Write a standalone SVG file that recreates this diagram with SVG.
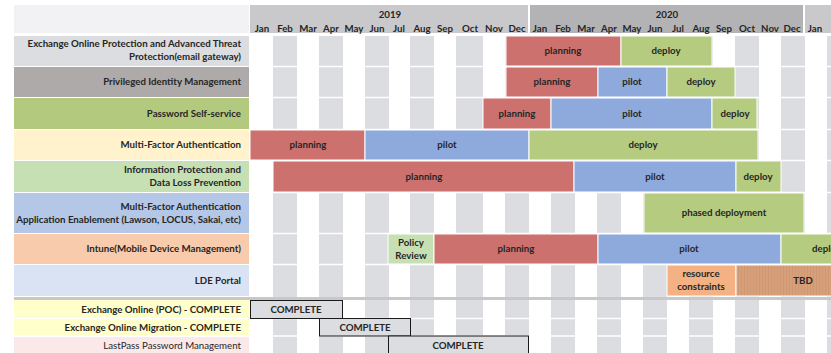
<svg xmlns="http://www.w3.org/2000/svg" width="831" height="353" viewBox="0 0 831 353">
<style>
text{font-family:Lato,"Liberation Sans",sans-serif;font-weight:700;fill:#262626;font-size:9.7px}
.lbl{text-anchor:end}
.c{text-anchor:middle}
.col{fill:#dcdde0}
.bar{stroke:#fff;stroke-width:1}
.plan{fill:#cd716f}
.pilot{fill:#8eaadc}
.deploy{fill:#b4cb80}
.pr{fill:#c6e0b4}
.rc{fill:#f4b183}
.done{fill:#dcdde0;stroke:#1a1a1a;stroke-width:1}
</style>
<defs>
<pattern id="stripe" width="3" height="10" patternUnits="userSpaceOnUse">
<rect width="3" height="10" fill="#d6a07a"/>
<rect width="1" height="10" fill="#cf9873"/>
</pattern>
</defs>
<rect width="831" height="353" fill="#fff"/>
<g id="header">
<rect x="14" y="5" width="235" height="28" fill="#f2f2f4"/>
<rect x="250" y="5" width="278" height="28" fill="#c9c9cb"/>
<rect x="530" y="5" width="273" height="28" fill="#b3b3b5"/>
<rect x="805" y="5" width="26" height="28" fill="#c9c9cb"/>
<text class="c" x="390" y="18">2019</text>
<text class="c" x="667" y="18">2020</text>
<text class="c" x="262" y="32">Jan</text><text class="c" x="285" y="32">Feb</text><text class="c" x="308" y="32">Mar</text><text class="c" x="331" y="32">Apr</text><text class="c" x="354" y="32">May</text><text class="c" x="377" y="32">Jun</text><text class="c" x="399" y="32">Jul</text><text class="c" x="422" y="32">Aug</text><text class="c" x="445" y="32">Sep</text><text class="c" x="470" y="32">Oct</text><text class="c" x="494" y="32">Nov</text><text class="c" x="517" y="32">Dec</text>
<text class="c" x="540" y="32">Jan</text><text class="c" x="563" y="32">Feb</text><text class="c" x="586" y="32">Mar</text><text class="c" x="609" y="32">Apr</text><text class="c" x="632" y="32">May</text><text class="c" x="655" y="32">Jun</text><text class="c" x="678" y="32">Jul</text><text class="c" x="701" y="32">Aug</text><text class="c" x="724" y="32">Sep</text><text class="c" x="747" y="32">Oct</text><text class="c" x="770" y="32">Nov</text><text class="c" x="792" y="32">Dec</text>
<text class="c" x="815" y="32">Jan</text>
</g>
<g id="grid">
<rect class="col" x="273" y="36" width="24" height="317"/>
<rect class="col" x="319" y="36" width="24" height="317"/>
<rect class="col" x="365" y="36" width="24" height="317"/>
<rect class="col" x="410" y="36" width="24" height="317"/>
<rect class="col" x="456" y="36" width="27" height="317"/>
<rect class="col" x="505" y="36" width="24" height="317"/>
<rect class="col" x="551" y="36" width="24" height="317"/>
<rect class="col" x="597" y="36" width="24" height="317"/>
<rect class="col" x="643" y="36" width="24" height="317"/>
<rect class="col" x="689" y="36" width="24" height="317"/>
<rect class="col" x="735" y="36" width="24" height="317"/>
<rect class="col" x="781" y="36" width="24" height="317"/>
<rect class="col" x="827" y="36" width="4" height="317"/>
<g stroke="#fff" stroke-width="1.5">
<line x1="250" y1="66.5" x2="831" y2="66.5"/><line x1="250" y1="97.5" x2="831" y2="97.5"/><line x1="250" y1="129.5" x2="831" y2="129.5"/><line x1="250" y1="160.5" x2="831" y2="160.5"/><line x1="250" y1="192.5" x2="831" y2="192.5"/><line x1="250" y1="233.5" x2="831" y2="233.5"/><line x1="250" y1="264.5" x2="831" y2="264.5"/><line x1="250" y1="318.5" x2="831" y2="318.5"/><line x1="250" y1="336" x2="831" y2="336"/>
</g>
<rect x="14" y="297" width="817" height="3" fill="#c8c8c8"/>
</g>
<g id="labels">
<g id="r1"><rect x="14" y="36" width="235" height="30" fill="#dcdde0"/><text class="lbl" x="241" y="47">Exchange Online Protection and Advanced Threat</text><text class="lbl" x="241" y="60">Protection(email gateway)</text></g>
<g id="r2"><rect x="14" y="67" width="235" height="30" fill="#aeaaaa"/><text class="lbl" x="241" y="85">Privileged Identity Management</text></g>
<g id="r3"><rect x="14" y="98" width="235" height="31" fill="#b3ca7e"/><text class="lbl" x="241" y="117">Password Self-service</text></g>
<g id="r4"><rect x="14" y="130" width="235" height="30" fill="#fff2cc"/><text class="lbl" x="241" y="148">Multi-Factor Authentication</text></g>
<g id="r5"><rect x="14" y="161" width="235" height="31" fill="#c6e0b4"/><text class="lbl" x="241" y="173">Information Protection and</text><text class="lbl" x="241" y="186">Data Loss Prevention</text></g>
<g id="r6"><rect x="14" y="193" width="235" height="40" fill="#b4c7e7"/><text class="lbl" x="241" y="210">Multi-Factor Authentication</text><text class="lbl" x="241" y="223">Application Enablement (Lawson, LOCUS, Sakai, etc)</text></g>
<g id="r7"><rect x="14" y="234" width="235" height="30" fill="#f8cbad"/><text class="lbl" x="241" y="252">Intune(Mobile Device Management)</text></g>
<g id="r8"><rect x="14" y="265" width="235" height="31" fill="#dae3f3"/><text class="lbl" x="241" y="284">LDE Portal</text></g>
<g id="r9"><rect x="14" y="300" width="235" height="18" fill="#ffffcc"/><text class="lbl" x="241" y="313">Exchange Online (POC) - COMPLETE</text></g>
<g id="r10"><rect x="14" y="319" width="235" height="16" fill="#ffffcc"/><text class="lbl" x="241" y="331">Exchange Online Migration - COMPLETE</text></g>
<g id="r11"><rect x="14" y="337" width="235" height="16" fill="#fbe9e9"/><text class="lbl" x="241" y="349" style="font-weight:400">LastPass Password Management</text></g>
</g>
<g id="bars">
<g id="b1"><rect class="bar plan" x="506" y="36" width="115" height="30"/><text class="c" x="563" y="54">planning</text>
<rect class="bar deploy" x="621" y="36" width="91" height="30"/><text class="c" x="666" y="54">deploy</text></g>
<g id="b2"><rect class="bar plan" x="506" y="67" width="92" height="30"/><text class="c" x="552" y="85">planning</text>
<rect class="bar pilot" x="598" y="67" width="69" height="30"/><text class="c" x="632" y="85">pilot</text>
<rect class="bar deploy" x="667" y="67" width="68" height="30"/><text class="c" x="701" y="85">deploy</text></g>
<g id="b3"><rect class="bar plan" x="483" y="98" width="68" height="31"/><text class="c" x="517" y="117">planning</text>
<rect class="bar pilot" x="551" y="98" width="161" height="31"/><text class="c" x="632" y="117">pilot</text>
<rect class="bar deploy" x="712" y="98" width="45" height="31"/><text class="c" x="735" y="117">deploy</text></g>
<g id="b4"><rect class="bar plan" x="250" y="130" width="115" height="30"/><text class="c" x="308" y="148">planning</text>
<rect class="bar pilot" x="365" y="130" width="164" height="30"/><text class="c" x="447" y="148">pilot</text>
<rect class="bar deploy" x="529" y="130" width="229" height="30"/><text class="c" x="643" y="148">deploy</text></g>
<g id="b5"><rect class="bar plan" x="273" y="161" width="301" height="31"/><text class="c" x="424" y="180">planning</text>
<rect class="bar pilot" x="574" y="161" width="162" height="31"/><text class="c" x="655" y="180">pilot</text>
<rect class="bar deploy" x="736" y="161" width="45" height="31"/><text class="c" x="758" y="180">deploy</text></g>
<g id="b6"><rect class="bar deploy" x="644" y="193" width="160" height="40"/><text class="c" x="724" y="216">phased deployment</text></g>
<g id="b7"><rect class="bar pr" x="388" y="234" width="46" height="30"/><text class="c" x="411" y="246">Policy</text><text class="c" x="411" y="259">Review</text>
<rect class="bar plan" x="434" y="234" width="164" height="30"/><text class="c" x="516" y="252">planning</text>
<rect class="bar pilot" x="598" y="234" width="183" height="30"/><text class="c" x="689" y="252">pilot</text>
<rect class="bar deploy" x="781" y="234" width="100" height="30"/><text x="812" y="252">deploy</text></g>
<g id="b8"><rect class="bar rc" x="667" y="265" width="69" height="31"/><text class="c" x="701" y="277">resource</text><text class="c" x="701" y="290">constraints</text>
<rect class="bar" x="736" y="265" width="110" height="31" fill="url(#stripe)"/><text class="c" x="803" y="284">TBD</text></g>
<g id="b9"><rect class="done" x="250.5" y="300.5" width="92" height="18"/><text class="c" x="296" y="313">COMPLETE</text></g>
<g id="b10"><rect class="done" x="319.5" y="318.5" width="91" height="17.5"/><text class="c" x="365" y="331">COMPLETE</text></g>
<g id="b11"><rect class="done" x="388.5" y="336" width="140" height="18"/><text class="c" x="458" y="349">COMPLETE</text></g>
</g>
</svg>
